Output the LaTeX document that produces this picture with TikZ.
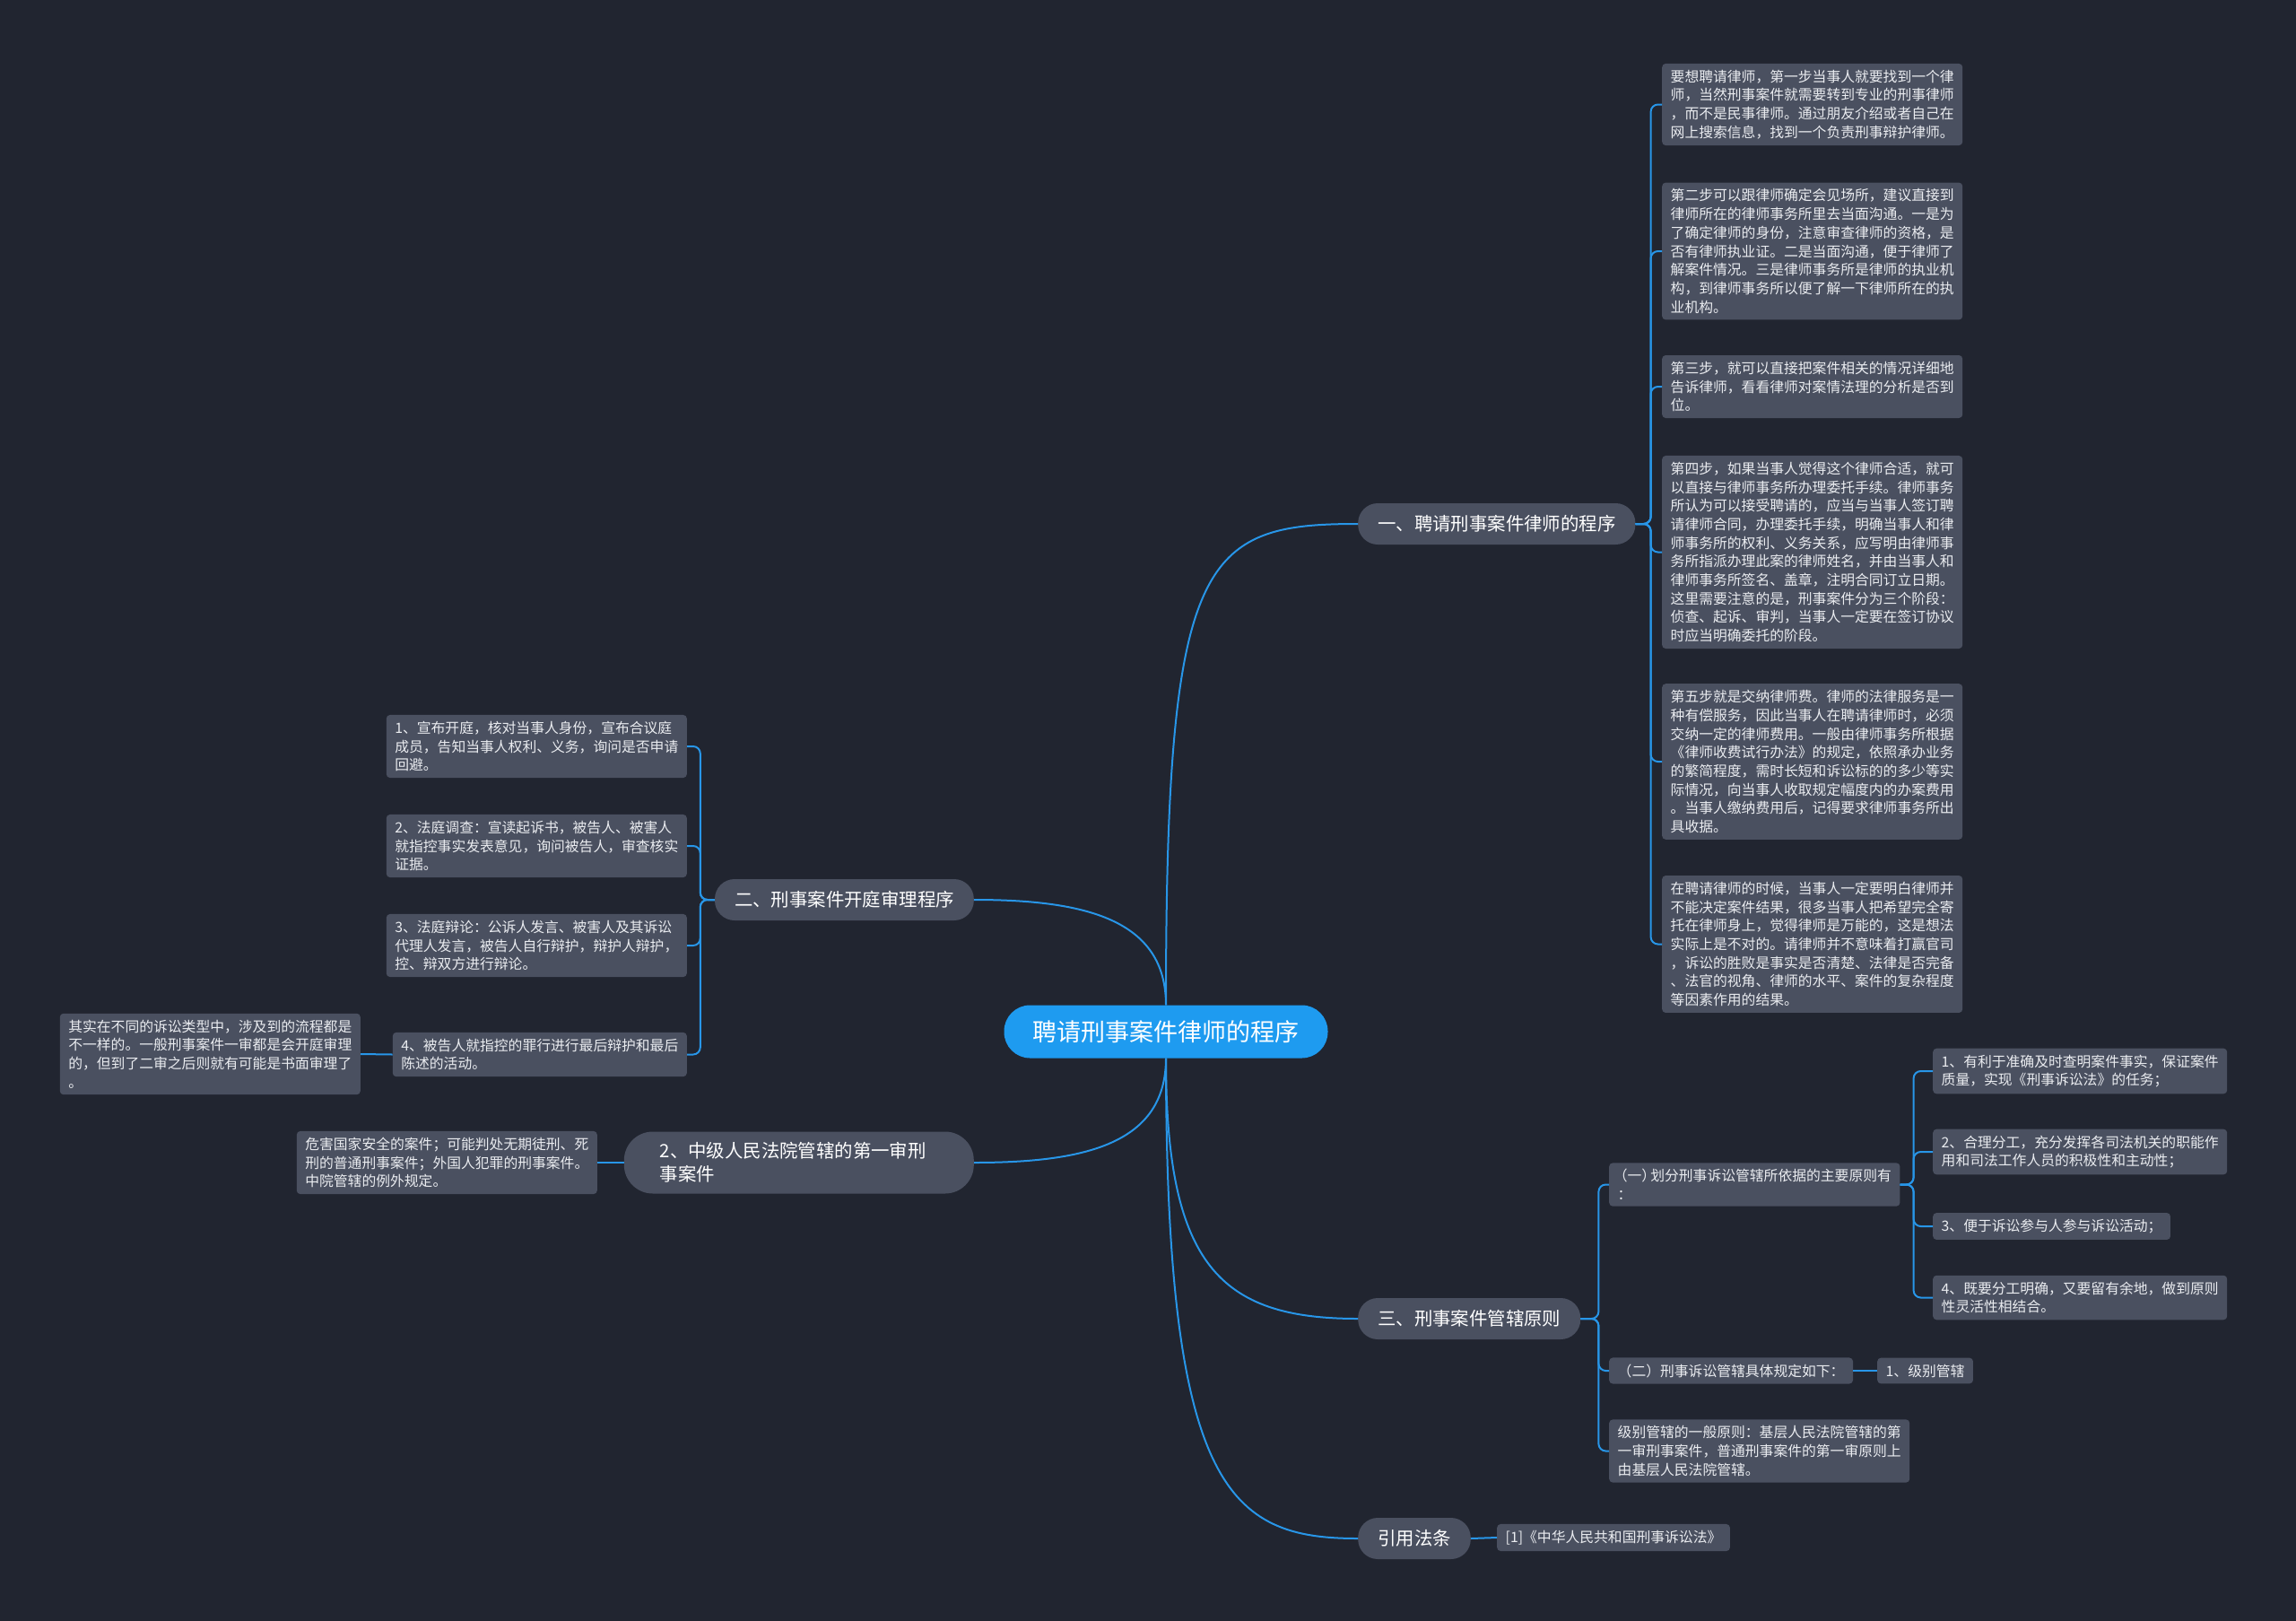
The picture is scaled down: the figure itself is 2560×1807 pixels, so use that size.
\documentclass[tikz,border=0pt]{standalone}
\usepackage{fontspec}
\setmainfont{Noto Sans CJK SC}
\usetikzlibrary{calc}
\definecolor{bg}{RGB}{33,37,48}
\definecolor{boxfill}{RGB}{74,80,96}
\definecolor{wirec}{RGB}{40,150,232}
\definecolor{rootfill}{RGB}{30,155,240}
\definecolor{txt}{RGB}{234,236,240}
\tikzset{
  leaf/.style={fill=boxfill, rounded corners=4pt, text=txt, align=left,
    inner xsep=9.5pt, inner ysep=7pt, font=\fontsize{15.8pt}{20.7pt}\selectfont},
  branch/.style={fill=boxfill, rounded corners=22pt, text=white, inner xsep=22pt,
    inner ysep=12pt, minimum height=46pt, font=\fontsize{20.4pt}{26pt}\selectfont},
  rootnode/.style={fill=rootfill, rounded corners=29pt, text=white, inner xsep=32pt,
    minimum height=59pt, font=\fontsize{27pt}{32pt}\selectfont},
  wire/.style={draw=wirec, line width=2pt},
  spine/.style={wire, rounded corners=8pt},
}
\begin{document}
\begin{tikzpicture}[x=1pt,y=-1pt]
\useasboundingbox (0,0) rectangle (2560,1807);
\fill[bg] (0,0) rectangle (2560,1807);

% root and branches
\node[rootnode] (root) at (1300,1150) {聘请刑事案件律师的程序};
\node[branch, anchor=west] (b1) at (1514,584) {一、聘请刑事案件律师的程序};
\node[branch, anchor=east] (b2) at (1086,1003) {二、刑事案件开庭审理程序};
\node[branch, anchor=east, align=left, text width=310pt, inner xsep=40pt, rounded corners=32pt] (b3) at (1086,1296) {2、中级人民法院管辖的第一审刑\\事案件};
\node[branch, anchor=west] (b4) at (1514,1470) {三、刑事案件管辖原则};
\node[branch, anchor=west] (b5) at (1514,1715) {引用法条};

% branch 1 leaves
\node[leaf, anchor=west] (a1) at (1853,116.5) {要想聘请律师，第一步当事人就要找到一个律\\师，当然刑事案件就需要转到专业的刑事律师\\，而不是民事律师。通过朋友介绍或者自己在\\网上搜索信息，找到一个负责刑事辩护律师。};
\node[leaf, anchor=west] (a2) at (1853,280) {第二步可以跟律师确定会见场所，建议直接到\\律师所在的律师事务所里去当面沟通。一是为\\了确定律师的身份，注意审查律师的资格，是\\否有律师执业证。二是当面沟通，便于律师了\\解案件情况。三是律师事务所是律师的执业机\\构，到律师事务所以便了解一下律师所在的执\\业机构。};
\node[leaf, anchor=west] (a3) at (1853,431) {第三步，就可以直接把案件相关的情况详细地\\告诉律师，看看律师对案情法理的分析是否到\\位。};
\node[leaf, anchor=west] (a4) at (1853,615.5) {第四步，如果当事人觉得这个律师合适，就可\\以直接与律师事务所办理委托手续。律师事务\\所认为可以接受聘请的，应当与当事人签订聘\\请律师合同，办理委托手续，明确当事人和律\\师事务所的权利、义务关系，应写明由律师事\\务所指派办理此案的律师姓名，并由当事人和\\律师事务所签名、盖章，注明合同订立日期。\\这里需要注意的是，刑事案件分为三个阶段：\\侦查、起诉、审判，当事人一定要在签订协议\\时应当明确委托的阶段。};
\node[leaf, anchor=west] (a5) at (1853,849) {第五步就是交纳律师费。律师的法律服务是一\\种有偿服务，因此当事人在聘请律师时，必须\\交纳一定的律师费用。一般由律师事务所根据\\《律师收费试行办法》的规定，依照承办业务\\的繁简程度，需时长短和诉讼标的的多少等实\\际情况，向当事人收取规定幅度内的办案费用\\。当事人缴纳费用后，记得要求律师事务所出\\具收据。};
\node[leaf, anchor=west] (a6) at (1853,1052.5) {在聘请律师的时候，当事人一定要明白律师并\\不能决定案件结果，很多当事人把希望完全寄\\托在律师身上，觉得律师是万能的，这是想法\\实际上是不对的。请律师并不意味着打赢官司\\，诉讼的胜败是事实是否清楚、法律是否完备\\、法官的视角、律师的水平、案件的复杂程度\\等因素作用的结果。};

% branch 2 leaves
\node[leaf, anchor=east] (c1) at (766,832) {1、宣布开庭，核对当事人身份，宣布合议庭\\成员，告知当事人权利、义务，询问是否申请\\回避。};
\node[leaf, anchor=east] (c2) at (766,943) {2、法庭调查：宣读起诉书，被告人、被害人\\就指控事实发表意见，询问被告人，审查核实\\证据。};
\node[leaf, anchor=east] (c3) at (766,1054) {3、法庭辩论：公诉人发言、被害人及其诉讼\\代理人发言，被告人自行辩护，辩护人辩护，\\控、辩双方进行辩论。};
\node[leaf, anchor=east] (c4) at (766,1175.5) {4、被告人就指控的罪行进行最后辩护和最后\\陈述的活动。};
\node[leaf, anchor=east] (c5) at (402,1175) {其实在不同的诉讼类型中，涉及到的流程都是\\不一样的。一般刑事案件一审都是会开庭审理\\的，但到了二审之后则就有可能是书面审理了\\。};

% branch 3 leaf
\node[leaf, anchor=east] (d1) at (666,1296) {危害国家安全的案件；可能判处无期徒刑、死\\刑的普通刑事案件；外国人犯罪的刑事案件。\\中院管辖的例外规定。};

% branch 4 leaves
\node[leaf, anchor=west] (e1) at (1794,1320.5) {{\addfontfeature{RawFeature=+halt}\hspace{3pt}（一）}\hspace{2pt}划分刑事诉讼管辖所依据的主要原则有\\：};
\node[leaf, anchor=west] (e2) at (1794,1528) {（二）刑事诉讼管辖具体规定如下：};
\node[leaf, anchor=west] (e3) at (1794,1617.5) {级别管辖的一般原则：基层人民法院管辖的第\\一审刑事案件，普通刑事案件的第一审原则上\\由基层人民法院管辖。};
\node[leaf, anchor=west] (f1) at (2155,1194) {1、有利于准确及时查明案件事实，保证案件\\质量，实现《刑事诉讼法》的任务；};
\node[leaf, anchor=west] (f2) at (2155,1284) {2、合理分工，充分发挥各司法机关的职能作\\用和司法工作人员的积极性和主动性；};
\node[leaf, anchor=west] (f3) at (2155,1367) {3、便于诉讼参与人参与诉讼活动；};
\node[leaf, anchor=west] (f4) at (2155,1446.5) {4、既要分工明确，又要留有余地，做到原则\\性灵活性相结合。};
\node[leaf, anchor=west] (g1) at (2093,1528) {1、级别管辖};

% branch 5 leaf
\node[leaf, anchor=west] (h1) at (1669,1714) {[1]《中华人民共和国刑事诉讼法》};

% root connectors
\draw[wire] (root.north) .. controls (1300,620) and (1340,584) .. (b1.west);
\draw[wire] (root.north) .. controls (1300,1025) and (1210,1003) .. (b2.east);
\draw[wire] (root.south) .. controls (1300,1275) and (1210,1296) .. (b3.east);
\draw[wire] (root.south) .. controls (1300,1410) and (1360,1470) .. (b4.west);
\draw[wire] (root.south) .. controls (1300,1660) and (1370,1715) .. (b5.west);

% branch 1 spine
\foreach \n in {a1,a2,a3,a4,a5,a6}
  \draw[spine] (b1.east) -- ++(17,0) |- (\n.west);
% branch 2 spine
\foreach \n in {c1,c2,c3,c4}
  \draw[spine] (b2.west) -- ++(-16,0) |- (\n.east);
\draw[wire] (c4.west) -- (c5.east);
\draw[wire] (b3.west) -- (d1.east);
% branch 4 spine
\foreach \n in {e1,e2,e3}
  \draw[spine] (b4.east) -- ++(20,0) |- (\n.west);
\foreach \n in {f1,f2,f3,f4}
  \draw[spine] (e1.east) -- ++(15,0) |- (\n.west);
\draw[wire] (e2.east) -- (g1.west);
\draw[wire] (b5.east) -- (h1.west);
\end{tikzpicture}
\end{document}
